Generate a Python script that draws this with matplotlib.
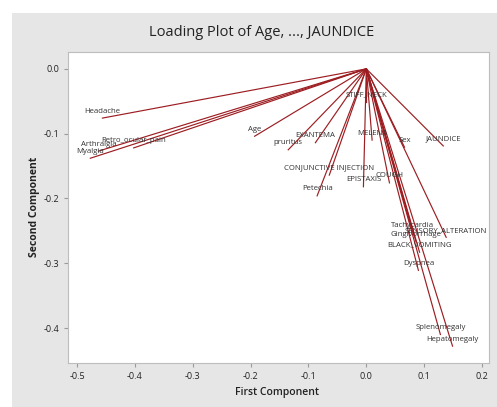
import matplotlib
matplotlib.use("Agg")
import matplotlib.pyplot as plt
from matplotlib.patches import Rectangle
from matplotlib.ticker import FuncFormatter

# loadings (first component, second component)
variables = ["Age", "Sex", "Headache", "Arthralgia", "Myalgia", "Retro_ocular_pain",
             "pruritus", "EXANTEMA", "Petechia", "CONJUNCTIVE INJECTION", "STIFF_NECK",
             "MELENA", "EPISTAXIS", "COUGH", "JAUNDICE", "Tachycardia",
             "SENSORY_ALTERATION", "Gingivorrhage", "BLACK_VOMITING", "Dyspnea",
             "Splenomegaly", "Hepatomegaly"]
first_comp = [-0.193, 0.066, -0.456, -0.463, -0.477, -0.402,
              -0.135, -0.088, -0.085, -0.064, 0.000,
              0.010, -0.005, 0.040, 0.133, 0.080,
              0.138, 0.086, 0.092, 0.090,
              0.128, 0.149]
second_comp = [-0.104, -0.121, -0.076, -0.127, -0.138, -0.122,
               -0.125, -0.114, -0.196, -0.164, -0.051,
               -0.110, -0.182, -0.176, -0.119, -0.252,
               -0.260, -0.267, -0.283, -0.311,
               -0.410, -0.428]

xticks = [-0.5, -0.4, -0.3, -0.2, -0.1, 0.0, 0.1, 0.2]
yticks = [0.0, -0.1, -0.2, -0.3, -0.4]

font = ["Open Sans", "DejaVu Sans"]
plt.rcParams["font.family"] = font

fig = plt.figure(figsize=(4.97, 4.07), dpi=100)
fig.patch.set_facecolor("white")
bg = Rectangle((12 / 497, 0), 1 - 12 / 497, 1 - 13 / 407,
               transform=fig.transFigure, facecolor="#E6E6E6",
               edgecolor="none", zorder=-5)
fig.patches.append(bg)

ax = fig.add_axes([68 / 497, 44 / 407, 421 / 497, 311 / 407])
ax.set_zorder(2)
ax.set_facecolor("white")

line_color = "#9C1E22"
for name, x, y in zip(variables, first_comp, second_comp):
    ax.plot([0, x], [0, y], color=line_color, lw=0.85)
    ax.annotate(name, (x, y), xytext=(0, 2.5), textcoords="offset points",
                ha="center", va="bottom", fontsize=5.6, color="#333333")

ax.set_xlim(-0.5155, 0.212)
ax.set_ylim(-0.454, 0.026)
ax.set_xticks(xticks)
ax.set_yticks(yticks)
fmt = FuncFormatter(lambda v, p: "%.1f" % v if abs(v) > 1e-9 else "0.0")
ax.xaxis.set_major_formatter(fmt)
ax.yaxis.set_major_formatter(fmt)
ax.tick_params(labelsize=6.5, length=3, color="#9A9A9A", colors="#222222")
for s in ax.spines.values():
    s.set_color("#BDBDBD")
    s.set_linewidth(0.8)

fig.text(262 / 497, 1 - 33 / 407, "Loading Plot of Age, ..., JAUNDICE",
         ha="center", va="center", fontsize=10.5, color="#222222")
fig.text(277 / 497, 1 - 393 / 407, "First Component", ha="center", va="center",
         fontsize=7.5, fontweight="semibold", color="#222222")
fig.text(35 / 497, 1 - 207 / 407, "Second Component", ha="center", va="center",
         rotation=90, fontsize=7.5, fontweight="bold", color="#222222")

fig.savefig("out.png", dpi=100)
